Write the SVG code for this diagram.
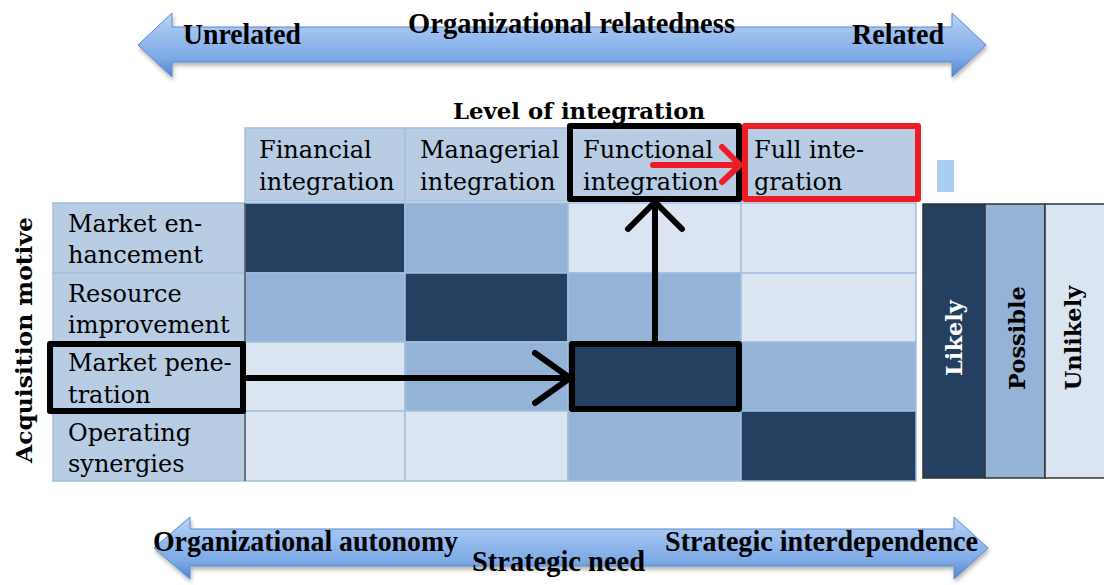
<svg xmlns="http://www.w3.org/2000/svg" width="1104" height="585" viewBox="0 0 1104 585">
<defs>
<linearGradient id="ag" x1="0" y1="0" x2="0" y2="1">
<stop offset="0" stop-color="#BCD5F6"/>
<stop offset="0.3" stop-color="#9DC0EF"/>
<stop offset="0.7" stop-color="#7EAAE6"/>
<stop offset="1" stop-color="#4F85CF"/>
</linearGradient>
<filter id="sh" x="-5%" y="-30%" width="110%" height="170%">
<feDropShadow dx="1" dy="3" stdDeviation="2" flood-color="#000" flood-opacity="0.3"/>
</filter>
</defs>
<style>
.cell{stroke:#A3BEE0;stroke-width:1.5}
.hd{fill:#B8CCE4}
.dk{fill:#243F60}
.md{fill:#95B3D7}
.lt{fill:#DBE5F1}
.t{font-family:"DejaVu Serif",serif;font-size:24px;fill:#000}
.at{font-family:"Liberation Serif","Times New Roman",serif;font-weight:bold;font-size:30px;fill:#000}
.b{font-family:"DejaVu Serif",serif;font-weight:bold;font-size:22.5px}
.blk{fill:none;stroke:#000;stroke-width:6;stroke-linecap:round;stroke-linejoin:round}
.red{fill:none;stroke:#ED1C24;stroke-width:6;stroke-linecap:round;stroke-linejoin:round}
.arrow{fill:url(#ag);stroke:#5B8BCB;stroke-width:1;filter:url(#sh)}
.lg{stroke:#333;stroke-width:1.5}
</style>

<g id="top-arrow">
<polygon class="arrow" points="138,45 172,13 172,27 952,27 952,13 986,45 952,77 952,62 172,62 172,77"/>
<text class="at" x="183" y="44" textLength="118" lengthAdjust="spacingAndGlyphs">Unrelated</text>
<text class="at" x="408" y="33" textLength="327" lengthAdjust="spacingAndGlyphs">Organizational  relatedness</text>
<text class="at" x="852" y="44" textLength="92" lengthAdjust="spacingAndGlyphs">Related</text>
</g>

<g id="bottom-arrow">
<polygon class="arrow" points="154,548 190,517 190,529 954,529 954,517 988,548 954,579 954,566 190,566 190,579"/>
<text class="at" x="153" y="551" textLength="305" lengthAdjust="spacingAndGlyphs">Organizational  autonomy</text>
<text class="at" x="472" y="571" textLength="173" lengthAdjust="spacingAndGlyphs">Strategic need</text>
<text class="at" x="665" y="551" textLength="313" lengthAdjust="spacingAndGlyphs">Strategic interdependence</text>
</g>

<g id="axis-labels">
<text class="b" x="453" y="119" font-size="22" textLength="252" lengthAdjust="spacingAndGlyphs">Level of integration</text>
<text class="b" transform="translate(32,340) rotate(-90)" text-anchor="middle" font-size="23" textLength="246" lengthAdjust="spacingAndGlyphs">Acquisition  motive</text>
</g>

<g id="header-row">
<rect class="cell hd" x="245" y="128" width="160" height="73"/>
<rect class="cell hd" x="405" y="128" width="163" height="73"/>
<rect class="cell hd" x="568" y="128" width="173" height="73"/>
<rect class="cell hd" x="741" y="128" width="175" height="73"/>
<text class="t" x="259" y="158">Financial</text>
<text class="t" x="259" y="190">integration</text>
<text class="t" x="420" y="158">Managerial</text>
<text class="t" x="420" y="190">integration</text>
<text class="t" x="583" y="158">Functional</text>
<text class="t" x="583" y="190">integration</text>
<text class="t" x="754" y="158">Full inte-</text>
<text class="t" x="754" y="190">gration</text>
</g>

<g id="row-headers">
<rect class="cell hd" x="53" y="203" width="192" height="70"/>
<rect class="cell hd" x="53" y="273" width="192" height="69"/>
<rect class="cell hd" x="53" y="342" width="192" height="69"/>
<rect class="cell hd" x="53" y="411" width="192" height="70"/>
<text class="t" x="68" y="232">Market en-</text>
<text class="t" x="68" y="263">hancement</text>
<text class="t" x="68" y="302">Resource</text>
<text class="t" x="68" y="333">improvement</text>
<text class="t" x="68" y="371">Market pene-</text>
<text class="t" x="68" y="403">tration</text>
<text class="t" x="68" y="441">Operating</text>
<text class="t" x="68" y="472">synergies</text>
</g>

<g id="grid">
<rect class="cell dk" x="245" y="203" width="160" height="70"/>
<rect class="cell md" x="405" y="203" width="163" height="70"/>
<rect class="cell lt" x="568" y="203" width="173" height="70"/>
<rect class="cell lt" x="741" y="203" width="175" height="70"/>

<rect class="cell md" x="245" y="273" width="160" height="69"/>
<rect class="cell dk" x="405" y="273" width="163" height="69"/>
<rect class="cell md" x="568" y="273" width="173" height="69"/>
<rect class="cell lt" x="741" y="273" width="175" height="69"/>

<rect class="cell lt" x="245" y="342" width="160" height="69"/>
<rect class="cell md" x="405" y="342" width="163" height="69"/>
<rect class="cell dk" x="568" y="342" width="173" height="69"/>
<rect class="cell md" x="741" y="342" width="175" height="69"/>

<rect class="cell lt" x="245" y="411" width="160" height="70"/>
<rect class="cell lt" x="405" y="411" width="163" height="70"/>
<rect class="cell md" x="568" y="411" width="173" height="70"/>
<rect class="cell dk" x="741" y="411" width="175" height="70"/>
<line x1="245" y1="203" x2="245" y2="481" stroke="#222" stroke-width="1"/>
</g>

<g id="legend">
<rect class="lg dk" x="923" y="204" width="62" height="274"/>
<rect class="lg md" x="985" y="204" width="60" height="274"/>
<rect class="lg lt" x="1045" y="204" width="62" height="274"/>
<text class="b" transform="translate(962,338) rotate(-90)" text-anchor="middle" fill="#FFF">Likely</text>
<text class="b" transform="translate(1025,338) rotate(-90)" text-anchor="middle" fill="#000">Possible</text>
<text class="b" transform="translate(1081,338) rotate(-90)" text-anchor="middle" fill="#000">Unlikely</text>
<rect x="937" y="160" width="17" height="32" fill="#AACEF2"/>
</g>

<g id="connectors">
<rect class="blk" x="570" y="126" width="169" height="73"/>
<rect class="red" x="745" y="126" width="173" height="73"/>
<path class="red" d="M653,165 H737 M722,147 L740,165 L722,182"/>
<rect class="blk" x="50" y="344" width="193" height="67"/>
<path class="blk" d="M246,378 H569 M535,353 L570,378 L535,403"/>
<rect class="blk" x="572" y="344" width="167" height="65"/>
<path class="blk" d="M655,341 V204 M628,229 L655,202 L682,229"/>
</g>
</svg>
